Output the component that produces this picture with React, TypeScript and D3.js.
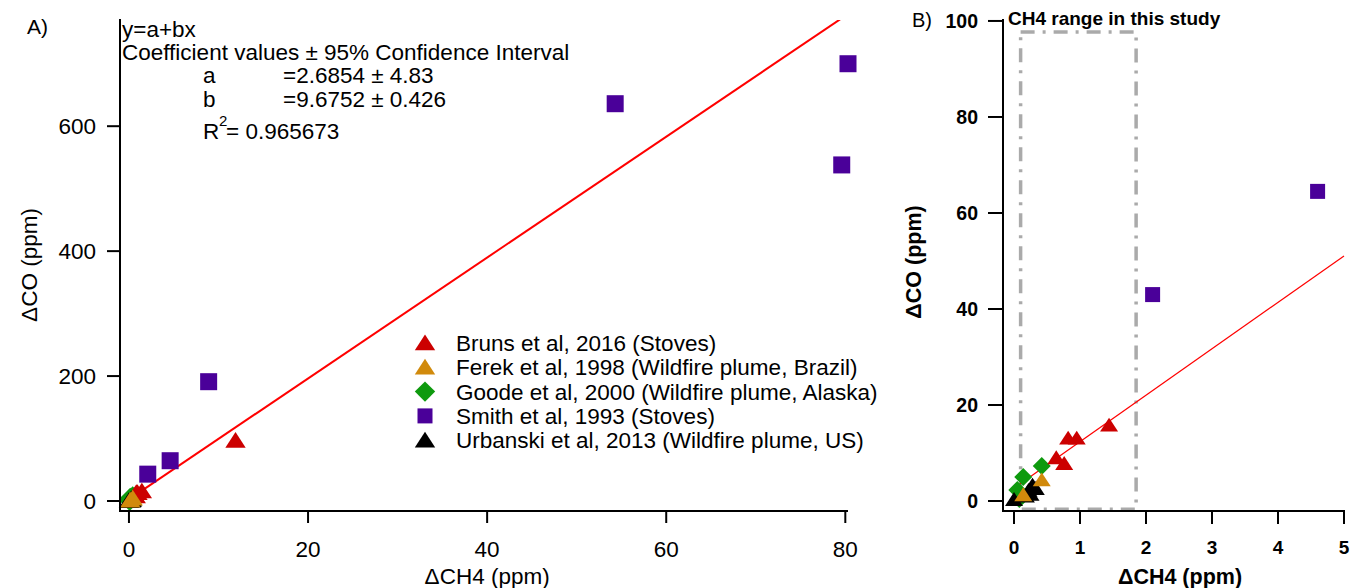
import React from "react";
import * as d3 from "d3";

type Pt = [number, number];

const brunsData: Pt[] = [[11.9, 97], [1.44, 15.8], [0.82, 13.1], [0.95, 13.1], [0.64, 9.0], [0.76, 7.8]];
const ferekData: Pt[] = [[0.42, 4.4], [0.14, 1.3]];
const goodeData: Pt[] = [[0.42, 7.3], [0.14, 5.0], [0.05, 2.3], [0.08, 0.4]];
const smithData: Pt[] = [[80.3, 700], [79.6, 538], [54.3, 636], [8.9, 191], [4.6, 64.5], [2.1, 43]];
const urbanskiData: Pt[] = [[0.0, 0.3], [0.22, 2.2], [0.28, 3.3], [0.33, 2.6], [0.25, 1.4], [0.18, 1.0]];

const legendLabels = [
  "Bruns et al, 2016 (Stoves)",
  "Ferek et al, 1998 (Wildfire plume, Brazil)",
  "Goode et al, 2000 (Wildfire plume, Alaska)",
  "Smith et al, 1993 (Stoves)",
  "Urbanski et al, 2013 (Wildfire plume, US)",
];

const fitA = 2.6854;
const fitB = 9.6752;

const xTicksA = [0, 20, 40, 60, 80];
const yTicksA = [0, 200, 400, 600];
const xTicksB = [0, 1, 2, 3, 4, 5];
const yTicksB = [0, 20, 40, 60, 80, 100];
const studyRange: Pt = [0.1, 1.85];
const studyRangeY: Pt = [-1.7, 97.7];

const RED = "#cc0000";
const ORANGE = "#d18a0c";
const GREEN = "#0e9a0e";
const PURPLE = "#4a0099";
const BLACK = "#000000";
const FONT = "'Liberation Sans', Arial, sans-serif";
const FS = 22.5;

type Shape = "tri" | "sq" | "dia";

function Marker({ x, y, shape, color, s }: { x: number; y: number; shape: Shape; color: string; s: number }) {
  if (shape === "sq") {
    return <rect x={x - s / 2} y={y - s / 2} width={s} height={s} fill={color} />;
  }
  if (shape === "dia") {
    const h = s * 0.6;
    return <path d={`M${x},${y - h} L${x + h},${y} L${x},${y + h} L${x - h},${y} Z`} fill={color} />;
  }
  const w = s * 0.6;
  const h = s * 0.5;
  return <path d={`M${x},${y - h} L${x + w},${y + h * 0.85} L${x - w},${y + h * 0.85} Z`} fill={color} />;
}

const series: { data: Pt[]; shape: Shape; color: string }[] = [
  { data: smithData, shape: "sq", color: PURPLE },
  { data: goodeData, shape: "dia", color: GREEN },
  { data: brunsData, shape: "tri", color: RED },
  { data: urbanskiData, shape: "tri", color: BLACK },
  { data: ferekData, shape: "tri", color: ORANGE },
];
const legendSeries: { shape: Shape; color: string }[] = [
  { shape: "tri", color: RED },
  { shape: "tri", color: ORANGE },
  { shape: "dia", color: GREEN },
  { shape: "sq", color: PURPLE },
  { shape: "tri", color: BLACK },
];

export default function App() {
  const xA = d3.scaleLinear().domain([-1, 80.3]).range([120, 848]);
  const yA = d3.scaleLinear().domain([-16, 770]).range([511, 20]);
  const xB = d3.scaleLinear().domain([-0.167, 5]).range([1003, 1344]);
  const yB = d3.scaleLinear().domain([-2.08, 100.2]).range([511, 20]);

  const lineA = d3.line<number>().x((d) => xA(d)).y((d) => yA(fitA + fitB * d));
  const lineB = d3.line<number>().x((d) => xB(d)).y((d) => yB(fitA + fitB * d));

  return (
    <svg width={1352} height={588} style={{ position: "absolute", left: 0, top: 0, background: "#fff" }} fontFamily={FONT}>
      <defs>
        <clipPath id="clipA">
          <rect x={120} y={20} width={728} height={491} />
        </clipPath>
        <clipPath id="clipB">
          <rect x={1003} y={18} width={345} height={493} />
        </clipPath>
      </defs>
      <rect x={0} y={0} width={1352} height={588} fill="#fff" />

      {/* Panel A */}
      <text x={27} y={34} fontSize={21}>A)</text>
      <path d={lineA([0, 80.3]) || ""} stroke="#ff0000" strokeWidth={2} fill="none" clipPath="url(#clipA)" />
      <g>
        {series.map((s, i) =>
          s.data.map((d, j) => <Marker key={`a${i}-${j}`} x={xA(d[0])} y={yA(d[1])} shape={s.shape} color={s.color} s={17} />)
        )}
      </g>
      <line x1={120} y1={19} x2={120} y2={512} stroke="#000" strokeWidth={2} />
      <line x1={119} y1={511} x2={848} y2={511} stroke="#000" strokeWidth={2} />
      {yTicksA.map((t) => (
        <g key={`ya${t}`}>
          <line x1={107} x2={120} y1={yA(t)} y2={yA(t)} stroke="#000" strokeWidth={2} />
          <text x={96} y={yA(t) + 8} fontSize={FS} textAnchor="end">{t}</text>
        </g>
      ))}
      {xTicksA.map((t) => (
        <g key={`xa${t}`}>
          <line x1={xA(t)} x2={xA(t)} y1={511} y2={523} stroke="#000" strokeWidth={2} />
          <text x={xA(t)} y={557} fontSize={FS} textAnchor="middle">{t}</text>
        </g>
      ))}
      <text x={xA(40)} y={584} fontSize={FS} textAnchor="middle">ΔCH4 (ppm)</text>
      <text transform={`translate(37,265) rotate(-90)`} fontSize={FS} textAnchor="middle">ΔCO (ppm)</text>

      <text x={122} y={37} fontSize={FS}>y=a+bx</text>
      <text x={122} y={60} fontSize={FS}>Coefficient values ± 95% Confidence Interval</text>
      <text x={203} y={83} fontSize={FS}>a</text>
      <text x={283} y={83} fontSize={FS}>=2.6854 ± 4.83</text>
      <text x={203} y={107} fontSize={FS}>b</text>
      <text x={283} y={107} fontSize={FS}>=9.6752 ± 0.426</text>
      <text x={203} y={139} fontSize={FS}>R</text>
      <text x={219} y={126} fontSize={15}>2</text>
      <text x={226} y={139} fontSize={FS}>= 0.965673</text>

      {legendLabels.map((lab, i) => {
        const y = 343 + i * 24.3;
        return (
          <g key={`lg${i}`}>
            <Marker x={425} y={y} shape={legendSeries[i].shape} color={legendSeries[i].color} s={legendSeries[i].shape === "sq" ? 15 : 17} />
            <text x={456} y={y + 8} fontSize={FS}>{lab}</text>
          </g>
        );
      })}

      {/* Panel B */}
      <text x={912} y={27} fontSize={20}>B)</text>
      <rect
        x={xB(studyRange[0])}
        y={yB(studyRangeY[1])}
        width={xB(studyRange[1]) - xB(studyRange[0])}
        height={yB(studyRangeY[0]) - yB(studyRangeY[1])}
        fill="none"
        stroke="#aaaaaa"
        strokeWidth={3.5}
        strokeDasharray="14 8 3 8"
      />
      <path d={lineB([0, 5]) || ""} stroke="#ff0000" strokeWidth={1.2} fill="none" clipPath="url(#clipB)" />
      <g clipPath="url(#clipB)">
        {series.map((s, i) =>
          s.data.map((d, j) => <Marker key={`b${i}-${j}`} x={xB(d[0])} y={yB(d[1])} shape={s.shape} color={s.color} s={15} />)
        )}
      </g>
      <line x1={1003} y1={19} x2={1003} y2={512} stroke="#000" strokeWidth={2} />
      <line x1={1002} y1={511} x2={1345} y2={511} stroke="#000" strokeWidth={2} />
      {yTicksB.map((t) => (
        <g key={`yb${t}`}>
          <line x1={988} x2={1003} y1={yB(t)} y2={yB(t)} stroke="#000" strokeWidth={2} />
          <text x={978} y={yB(t) + 7} fontSize={19.5} fontWeight="bold" textAnchor="end">{t}</text>
        </g>
      ))}
      {xTicksB.map((t) => (
        <g key={`xb${t}`}>
          <line x1={xB(t)} x2={xB(t)} y1={511} y2={524} stroke="#000" strokeWidth={2} />
          <text x={xB(t)} y={554} fontSize={19} fontWeight="bold" textAnchor="middle">{t}</text>
        </g>
      ))}
      <text x={1180} y={584} fontSize={21.5} fontWeight="bold" textAnchor="middle">ΔCH4 (ppm)</text>
      <text transform={`translate(921,262) rotate(-90)`} fontSize={21.5} fontWeight="bold" textAnchor="middle">ΔCO (ppm)</text>
      <text x={1008} y={25} fontSize={19} fontWeight="bold">CH4 range in this study</text>
    </svg>
  );
}
